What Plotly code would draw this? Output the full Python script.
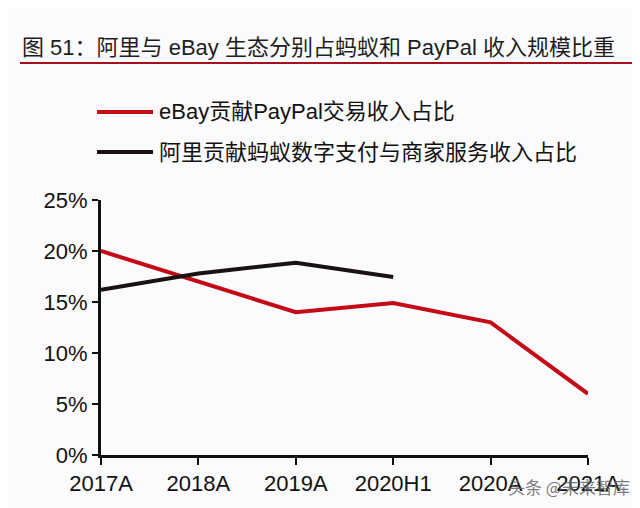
import plotly.graph_objects as go

categories = ["2017A", "2018A", "2019A", "2020H1", "2020A", "2021A"]
ebay_share = [20.0, 17.0, 14.0, 14.9, 13.0, 6.0]
alibaba_share = [16.2, 17.8, 18.85, 17.45, None, None]
series_names = ["eBay贡献PayPal交易收入占比", "阿里贡献蚂蚁数字支付与商家服务收入占比"]
series_colors = ["#c40a16", "#1a1212"]
title_text = "图 51：阿里与 eBay 生态分别占蚂蚁和 PayPal 收入规模比重"
y_ticks = [0, 5, 10, 15, 20, 25]

FONT = "Liberation Sans, Arial, Noto Sans CJK SC, sans-serif"
OFF = 8  # page body margin
W, H = 640 - OFF, 508 - OFF
L, T = 101 - OFF, 200 - OFF
R = W - (588 - OFF)
B = H - (455 - OFF)
PW, PH = W - L - R, H - T - B

def px(x):
    return (x - OFF - L) / PW

def py(y):
    return (H - B - (y - OFF)) / PH

fig = go.Figure()
for name, vals, col in zip(series_names, [ebay_share, alibaba_share], series_colors):
    fig.add_trace(go.Scatter(
        x=categories, y=vals, mode="lines", name=name,
        line=dict(color=col, width=4), cliponaxis=False,
        showlegend=False, connectgaps=False,
    ))

shapes = []
annotations = []
# title
annotations.append(dict(text=title_text, xref="paper", yref="paper", x=px(20), y=py(48),
                        xanchor="left", yanchor="middle", showarrow=False,
                        font=dict(family=FONT, size=22, color="#1e1e1e")))
shapes.append(dict(type="line", xref="paper", yref="paper", x0=px(20), x1=px(641),
                   y0=py(63), y1=py(63), line=dict(color="#a8101c", width=2)))
# legend
for i, (name, col) in enumerate(zip(series_names, series_colors)):
    yy = py(112 + 40 * i)
    shapes.append(dict(type="line", xref="paper", yref="paper", x0=px(97), x1=px(153),
                       y0=yy, y1=yy, line=dict(color=col, width=4)))
    annotations.append(dict(text=name, xref="paper", yref="paper", x=px(157), y=yy,
                            xanchor="left", yanchor="middle", showarrow=False,
                            font=dict(family=FONT, size=22, color="#111111")))
# watermark
annotations.append(dict(text="头条 @未来智库", xref="paper", yref="paper", x=px(569), y=py(486),
                        xanchor="center", yanchor="middle", showarrow=False,
                        font=dict(family="Noto Sans CJK SC, sans-serif", size=17, color="rgba(100,100,100,0.85)")))

fig.update_layout(
    width=W, height=H,
    margin=dict(l=L, r=R, t=T, b=B, pad=0),
    paper_bgcolor="#fbfbfd", plot_bgcolor="#fbfbfd",
    shapes=shapes, annotations=annotations,
    font=dict(family=FONT, size=22, color="#111111"),
)
fig.update_xaxes(
    type="category", range=[0, 5], showgrid=False, zeroline=False,
    showline=True, linecolor="#111111", linewidth=3,
    ticks="outside", ticklen=7, tickwidth=2, tickcolor="#111111",
    tickfont=dict(family=FONT, size=22, color="#111111"),
)
fig.update_yaxes(
    range=[0, 25], tickvals=y_ticks, ticktext=[f"{v}%" for v in y_ticks],
    showgrid=False, zeroline=False,
    showline=True, linecolor="#111111", linewidth=3,
    ticks="outside", ticklen=6, tickwidth=2, tickcolor="#111111",
    tickfont=dict(family=FONT, size=22, color="#111111"),
)
fig.write_html("out.html")
